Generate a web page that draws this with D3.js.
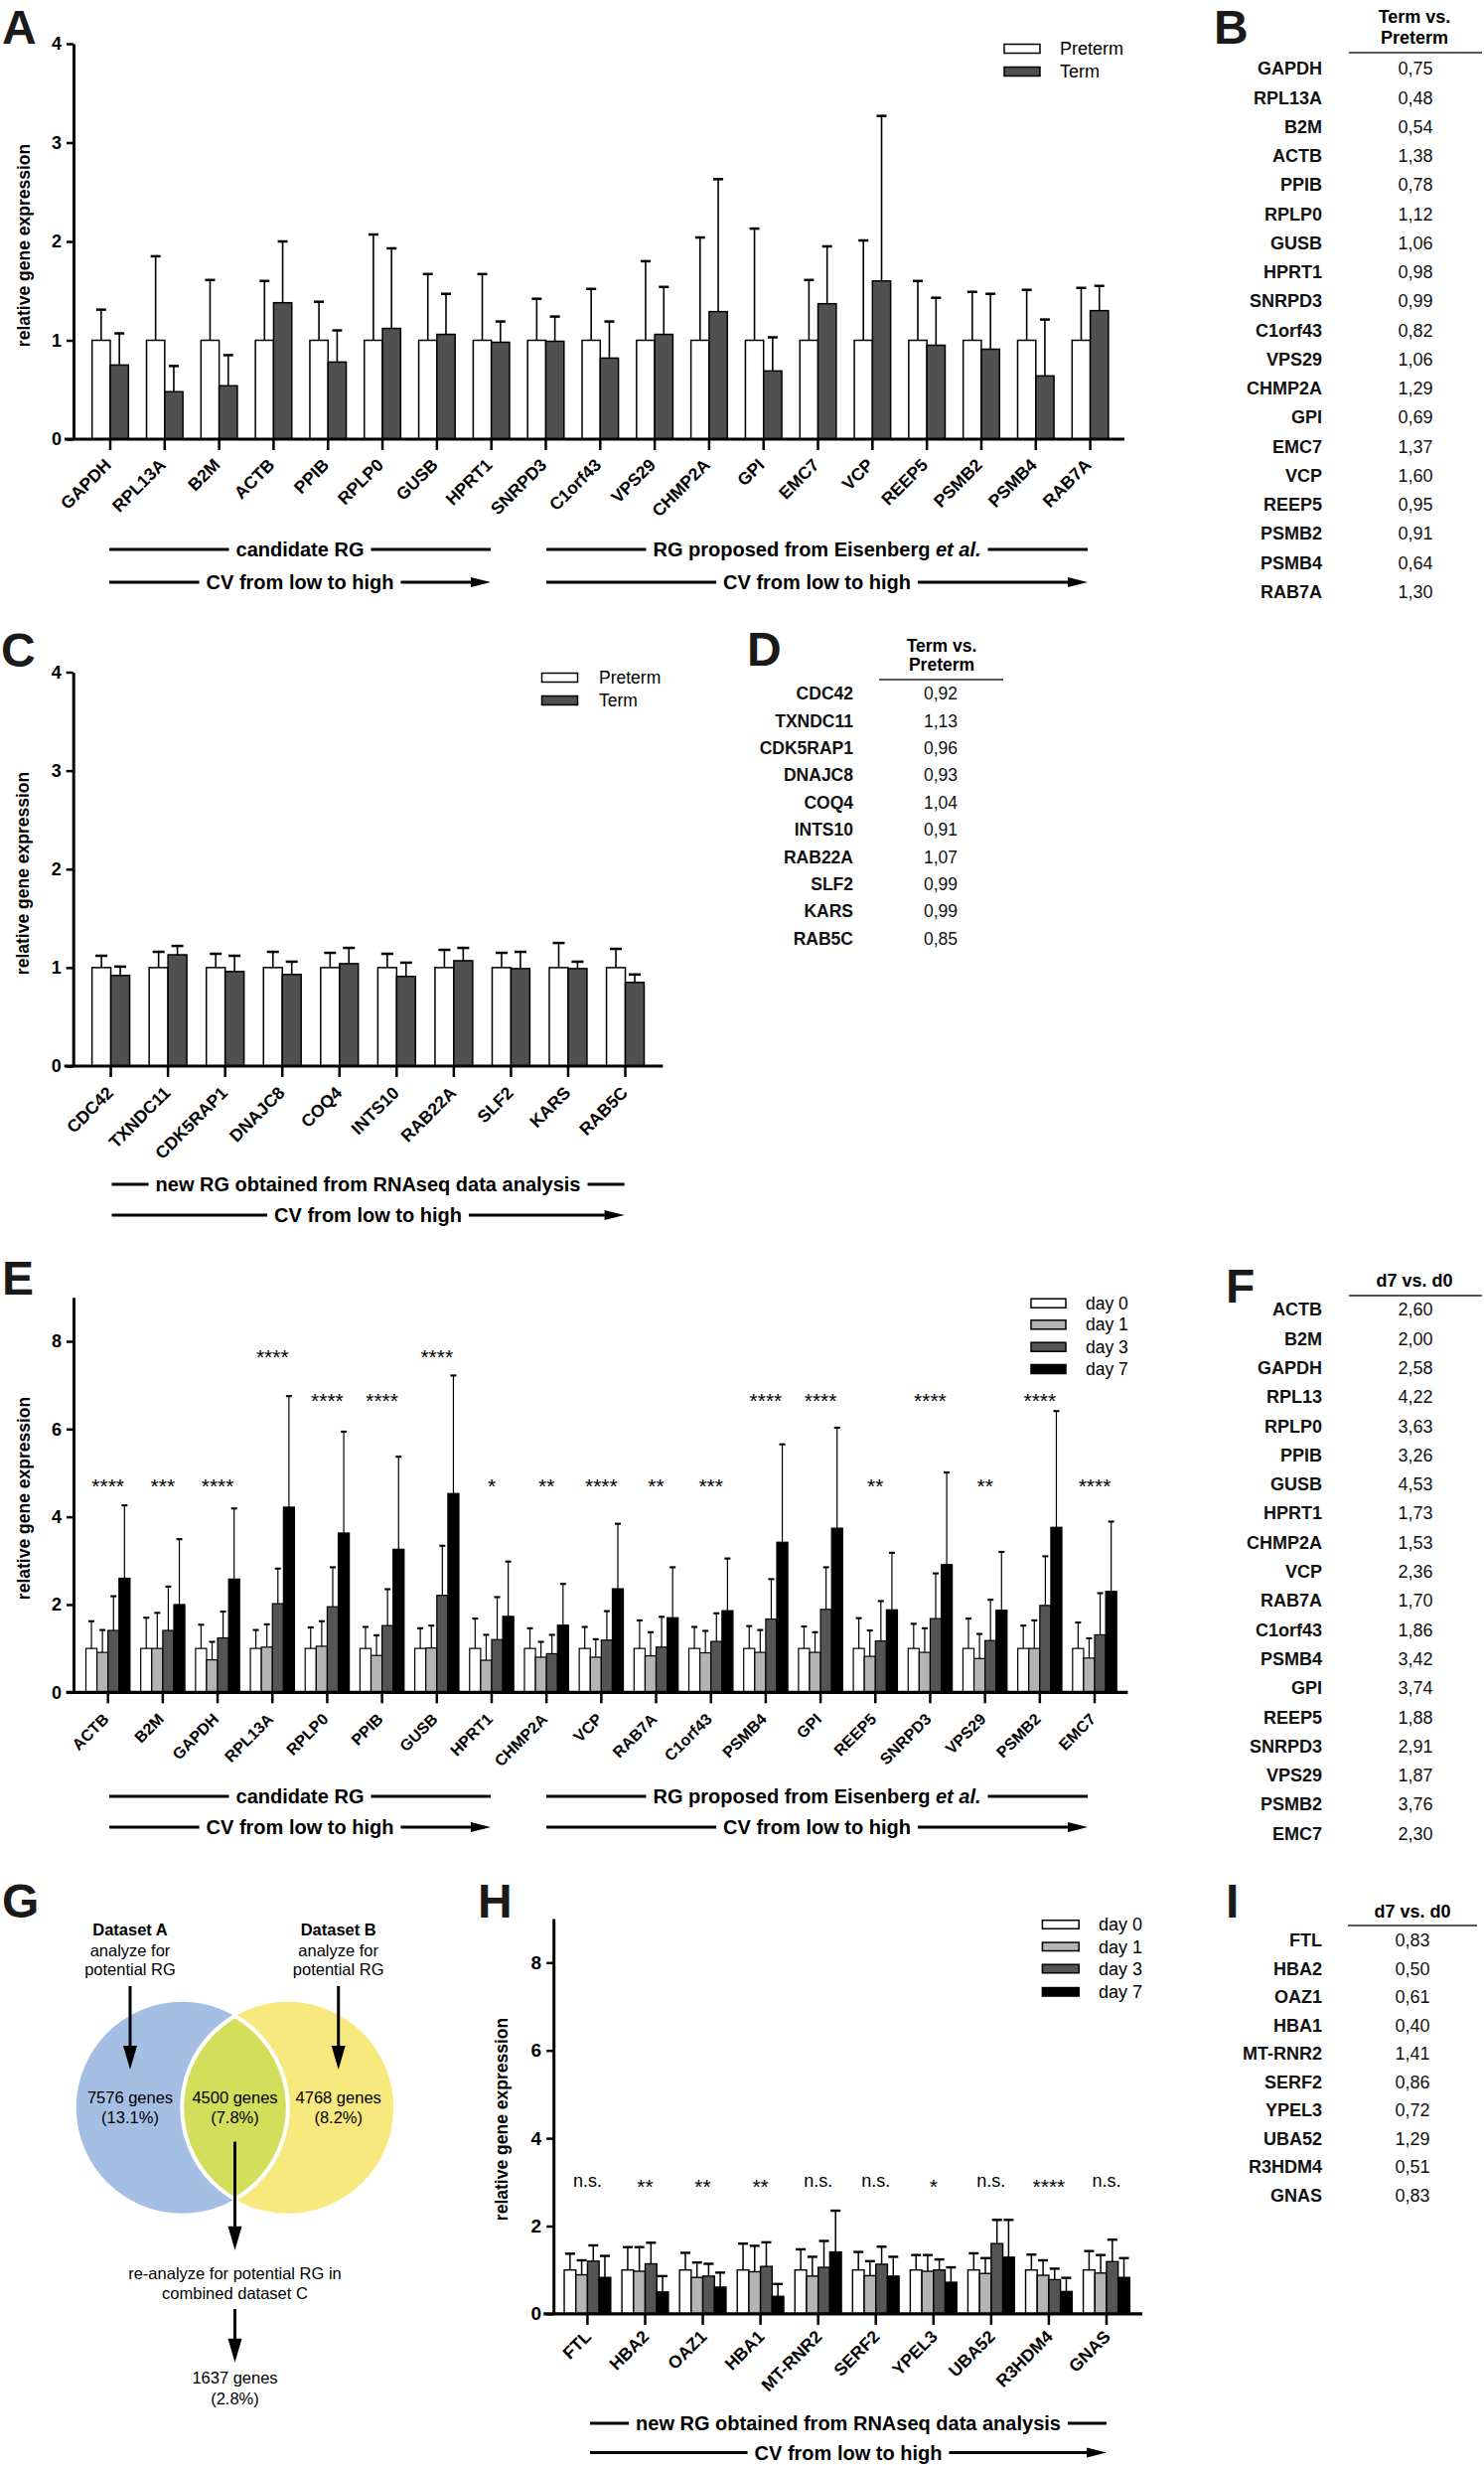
<!DOCTYPE html>
<html><head><meta charset="utf-8">
<script src="https://cdn.jsdelivr.net/npm/d3@7"></script>
<style>body{margin:0;background:#fff}</style>
</head><body>
<svg id="fig" width="1494" height="2481" xmlns="http://www.w3.org/2000/svg"></svg>
<script>
// ---------------- DATA ----------------
// Panel A / B : Preterm vs Term
const genesA = ["GAPDH","RPL13A","B2M","ACTB","PPIB","RPLP0","GUSB","HPRT1","SNRPD3","C1orf43","VPS29","CHMP2A","GPI","EMC7","VCP","REEP5","PSMB2","PSMB4","RAB7A"];
const seriesPT = ["Preterm","Term"];
const pretermA = [1,1,1,1,1,1,1,1,1,1,1,1,1,1,1,1,1,1,1];
const termA = [0.75,0.48,0.54,1.38,0.78,1.12,1.06,0.98,0.99,0.82,1.06,1.29,0.69,1.37,1.60,0.95,0.91,0.64,1.30];
const pretermErrA = [1.31,1.85,1.61,1.60,1.39,2.07,1.67,1.67,1.42,1.52,1.80,2.04,2.13,1.61,2.01,1.60,1.49,1.51,1.53];
const termErrA = [1.07,0.74,0.85,2.00,1.10,1.93,1.47,1.19,1.24,1.19,1.54,2.63,1.03,1.95,3.27,1.43,1.47,1.21,1.55];
const yTicksA = [0,1,2,3,4];

// Panel C / D
const genesC = ["CDC42","TXNDC11","CDK5RAP1","DNAJC8","COQ4","INTS10","RAB22A","SLF2","KARS","RAB5C"];
const pretermC = [1,1,1,1,1,1,1,1,1,1];
const termC = [0.92,1.13,0.96,0.93,1.04,0.91,1.07,0.99,0.99,0.85];
const pretermErrC = [1.12,1.16,1.14,1.16,1.15,1.14,1.18,1.15,1.25,1.19];
const termErrC = [1.01,1.22,1.12,1.06,1.20,1.05,1.20,1.16,1.06,0.93];
const yTicksC = [0,1,2,3,4];

// Panel E / F : days
const seriesDays = ["day 0","day 1","day 3","day 7"];
const genesE = ["ACTB","B2M","GAPDH","RPL13A","RPLP0","PPIB","GUSB","HPRT1","CHMP2A","VCP","RAB7A","C1orf43","PSMB4","GPI","REEP5","SNRPD3","VPS29","PSMB2","EMC7"];
const day0E = [1,1,1,1,1,1,1,1,1,1,1,1,1,1,1,1,1,1,1];
const day1E = [0.91,1.00,0.74,1.03,1.05,0.84,1.01,0.73,0.80,0.80,0.83,0.90,0.91,0.91,0.82,0.91,0.77,1.00,0.78];
const day3E = [1.41,1.41,1.24,2.02,1.95,1.52,2.21,1.20,0.88,1.19,1.03,1.16,1.67,1.89,1.17,1.68,1.18,1.98,1.31];
const day7E = [2.60,2.00,2.58,4.22,3.63,3.26,4.53,1.73,1.53,2.36,1.70,1.86,3.42,3.74,1.88,2.91,1.87,3.76,2.30];
const day0ErrE = [1.62,1.70,1.54,1.42,1.48,1.49,1.46,1.68,1.46,1.49,1.64,1.49,1.51,1.50,1.69,1.56,1.68,1.52,1.59];
const day1ErrE = [1.42,1.81,1.15,1.55,1.62,1.30,1.52,1.31,1.15,1.21,1.37,1.40,1.42,1.37,1.41,1.46,1.33,1.64,1.23];
const day3ErrE = [2.19,2.41,1.84,2.82,2.85,2.35,3.34,2.17,1.31,1.85,1.72,1.80,2.58,2.85,2.08,2.71,2.11,3.10,2.26];
const day7ErrE = [4.26,3.49,4.19,6.75,5.94,5.37,7.22,2.98,2.47,3.84,2.85,3.05,5.65,6.03,3.18,5.01,3.20,6.41,3.89];
const sigE = ["****","***","****","****","****","****","****","*","**","****","**","***","****","****","**","****","**","****","****"];
const tableGenesF = ["ACTB","B2M","GAPDH","RPL13","RPLP0","PPIB","GUSB","HPRT1","CHMP2A","VCP","RAB7A","C1orf43","PSMB4","GPI","REEP5","SNRPD3","VPS29","PSMB2","EMC7"];
const yTicksE = [0,2,4,6,8];

// Panel H / I
const genesH = ["FTL","HBA2","OAZ1","HBA1","MT-RNR2","SERF2","YPEL3","UBA52","R3HDM4","GNAS"];
const day0H = [1,1,1,1,1,1,1,1,1,1];
const day1H = [0.89,0.97,0.83,0.96,0.86,0.87,0.97,0.92,0.88,0.93];
const day3H = [1.20,1.14,0.86,1.08,1.06,1.13,1.00,1.60,0.78,1.19];
const day7H = [0.83,0.50,0.61,0.40,1.41,0.86,0.72,1.29,0.51,0.83];
const day0ErrH = [1.37,1.52,1.39,1.60,1.47,1.41,1.34,1.38,1.35,1.43];
const day1ErrH = [1.22,1.52,1.17,1.55,1.30,1.20,1.34,1.27,1.22,1.34];
const day3ErrH = [1.56,1.62,1.14,1.63,1.66,1.53,1.24,2.14,1.03,1.69];
const day7ErrH = [1.32,0.86,0.94,0.68,2.35,1.30,1.06,2.14,0.82,1.27];
const sigH = ["n.s.","**","**","**","n.s.","n.s.","*","n.s.","****","n.s."];
const yTicksH = [0,2,4,6,8];

// Panel G : Venn
const vennHeads = ["Dataset A","Dataset B"];
const vennCounts = ["7576 genes","4500 genes","4768 genes"];
const vennPcts = ["(13.1%)","(7.8%)","(8.2%)"];
const finalCount = ["1637 genes","(2.8%)"];

// ---------------- DRAWING ----------------
const FONT = '"Liberation Sans", Arial, Helvetica, sans-serif';
const svg = d3.select("#fig");
svg.append("rect").attr("width",1494).attr("height",2481).attr("fill","#fff");
const fmt = v => d3.format(".2f")(v).replace(".", ",");

function txt(g, x, y, s, fs, opts = {}) {
  return g.append("text").attr("x", x).attr("y", y).text(s)
    .attr("font-family", FONT).attr("font-size", fs)
    .attr("font-weight", opts.bold ? "bold" : "normal")
    .attr("font-style", opts.italic ? "italic" : "normal")
    .attr("text-anchor", opts.anchor || "start")
    .attr("dy", opts.dy == null ? "0.35em" : opts.dy)
    .attr("fill", opts.fill || "#000");
}

function panelLetter(t, x, y) {
  svg.append("text").attr("x", x).attr("y", y).text(t)
    .attr("font-family", FONT).attr("font-weight", "bold").attr("font-size", 48).attr("fill", "#1a1a1a");
}

function barChart(c) {
  const g = svg.append("g");
  const x0 = d3.scaleBand().domain(c.cats).range(c.xr).paddingInner(0).paddingOuter(0);
  const bw = x0.bandwidth();
  const x1 = d3.scaleBand().domain(c.names).range([(bw - c.gw) / 2, (bw + c.gw) / 2]);
  const y = d3.scaleLinear().domain(c.yDomain).range(c.yr);
  const flat = [];
  c.cats.forEach((cat, i) => c.names.forEach((n, j) =>
    flat.push({ cat, n, j, i, v: c.values[j][i], e: c.errs[j][i] })));

  // error bars (upper)
  const eb = g.append("g").selectAll("g").data(flat).join("g")
    .attr("transform", d => `translate(${x0(d.cat) + x1(d.n) + x1.bandwidth() / 2},0)`);
  eb.append("line").attr("x1", 0).attr("x2", 0)
    .attr("y1", d => y(d.v)).attr("y2", d => y(d.e))
    .attr("stroke", "#000").attr("stroke-width", c.ew);
  eb.append("line").attr("x1", -c.cap / 2).attr("x2", c.cap / 2)
    .attr("y1", d => y(d.e)).attr("y2", d => y(d.e))
    .attr("stroke", "#000").attr("stroke-width", c.ew + 0.9);

  // bars
  g.append("g").selectAll("rect").data(flat).join("rect")
    .attr("x", d => x0(d.cat) + x1(d.n)).attr("width", x1.bandwidth())
    .attr("y", d => y(d.v)).attr("height", d => y(0) - y(d.v))
    .attr("fill", d => c.colors[d.j]).attr("stroke", "#000").attr("stroke-width", c.bs);

  // y axis
  const ya = g.append("g").attr("transform", `translate(${c.axisX},0)`)
    .call(d3.axisLeft(y).tickValues(c.yTicks).tickFormat(d3.format("d"))
      .tickSize(7).tickSizeOuter(0).tickPadding(5));
  ya.select(".domain").attr("stroke-width", 3);
  ya.selectAll(".tick line").attr("stroke-width", 2.5);
  ya.selectAll(".tick text").attr("font-family", FONT).attr("font-weight", "bold")
    .attr("font-size", c.yfs).attr("fill", "#000");

  // x axis
  const xa = g.append("g").attr("transform", `translate(0,${y(0)})`)
    .call(d3.axisBottom(x0).tickSize(11).tickSizeOuter(0));
  xa.select(".domain").remove();
  xa.selectAll(".tick line").attr("stroke-width", 2.5);
  xa.selectAll(".tick text").attr("y", 0).attr("dy", 0).attr("x", 0)
    .attr("transform", `translate(${c.lx},${c.ly}) rotate(-45)`)
    .attr("text-anchor", "end").attr("font-family", FONT).attr("font-weight", "bold")
    .attr("font-size", c.lfs).attr("fill", "#000");
  g.append("line").attr("x1", c.xAxis[0]).attr("x2", c.xAxis[1])
    .attr("y1", y(0)).attr("y2", y(0)).attr("stroke", "#000").attr("stroke-width", 3.2);

  // y title
  g.append("text").attr("transform", `translate(${c.title.x},${c.title.y}) rotate(-90)`)
    .attr("text-anchor", "middle").attr("font-family", FONT).attr("font-weight", "bold")
    .attr("font-size", 17.5).text("relative gene expression");

  // legend
  const L = c.legend;
  c.names.forEach((n, j) => {
    g.append("rect").attr("x", L.x).attr("y", L.ys[j] - L.h / 2).attr("width", L.w).attr("height", L.h)
      .attr("fill", c.colors[j]).attr("stroke", "#000").attr("stroke-width", 1.5);
    txt(g, L.tx, L.ys[j], n, L.fs);
  });

  // significance
  if (c.sig) {
    c.cats.forEach((cat, i) => {
      const s = c.sig[i];
      const lvl = c.sigLevel(i);
      const isStar = s.indexOf("*") >= 0;
      const fs = isStar ? c.starFs : c.nsFs;
      g.append("text").attr("x", x0(cat) + bw / 2).attr("y", y(lvl) + (isStar ? 0.58 : 0.26) * fs)
        .attr("text-anchor", "middle").attr("font-family", FONT)
        .attr("font-size", fs).attr("fill", "#000").text(s);
    });
  }
  return { x0, y };
}

function bracket(x1, x2, y, parts, arrow, fs) {
  const g = svg.append("g");
  const cx = (x1 + x2) / 2;
  const t = g.append("text").attr("x", cx).attr("y", y).attr("dy", "0.35em")
    .attr("text-anchor", "middle").attr("font-family", FONT).attr("font-weight", "bold").attr("font-size", fs);
  parts.forEach(p => t.append("tspan").text(p.t).attr("font-style", p.i ? "italic" : "normal"));
  const w = t.node().getComputedTextLength();
  const gap = 7;
  g.append("line").attr("x1", x1).attr("x2", cx - w / 2 - gap).attr("y1", y).attr("y2", y)
    .attr("stroke", "#000").attr("stroke-width", 2.8);
  g.append("line").attr("x1", cx + w / 2 + gap).attr("x2", arrow ? x2 - 16 : x2).attr("y1", y).attr("y2", y)
    .attr("stroke", "#000").attr("stroke-width", 2.8);
  if (arrow) g.append("path").attr("d", `M${x2},${y}L${x2 - 20},${y - 5}L${x2 - 20},${y + 5}Z`).attr("fill", "#000");
}

function table(c) {
  const g = svg.append("g");
  c.header.forEach((h, k) => txt(g, c.hx, c.hy[k], h, c.fs, { bold: true, anchor: "middle" }));
  g.append("line").attr("x1", c.rule[0]).attr("x2", c.rule[1]).attr("y1", c.ruleY).attr("y2", c.ruleY)
    .attr("stroke", "#222").attr("stroke-width", 1.5);
  const yr = d3.scalePoint().domain(c.names).range([c.y0, c.y0 + c.dy * (c.names.length - 1)]);
  c.names.forEach((n, i) => {
    txt(g, c.nx, yr(n), n, c.fs, { bold: true, anchor: "end", fill: "#111" });
    txt(g, c.vx, yr(n), fmt(c.values[i]), c.fs, { anchor: "middle", fill: "#111" });
  });
}

// ---------- Panel A ----------
panelLetter("A", 2, 44);
barChart({
  cats: genesA, names: seriesPT, values: [pretermA, termA], errs: [pretermErrA, termErrA],
  colors: ["#ffffff", "#505050"],
  xr: [83.6, 1125], gw: 36.6, yDomain: [0, 4], yr: [442, 44], yTicks: yTicksA,
  axisX: 74, xAxis: [65, 1132], yfs: 18,
  lx: 2, ly: 27, lfs: 17.5,
  ew: 1.6, cap: 10, bs: 1.5,
  title: { x: 30, y: 247 },
  legend: { x: 1011, w: 36, h: 9, ys: [49, 72], tx: 1067, fs: 18 }
});
bracket(110, 494, 553, [{ t: "candidate RG" }], false, 20);
bracket(550, 1095, 553, [{ t: "RG proposed from Eisenberg " }, { t: "et al.", i: true }], false, 20);
bracket(110, 494, 586, [{ t: "CV from low to high" }], true, 20);
bracket(550, 1095, 586, [{ t: "CV from low to high" }], true, 20);

// ---------- Panel B ----------
panelLetter("B", 1222, 44);
table({ header: ["Term vs.", "Preterm"], hx: 1424, hy: [17, 37.5], rule: [1358, 1492], ruleY: 53,
  names: genesA, values: termA, nx: 1331, vx: 1425, y0: 69, dy: 29.25, fs: 18 });

// ---------- Panel C ----------
panelLetter("C", 1, 671);
barChart({
  cats: genesC, names: seriesPT, values: [pretermC, termC], errs: [pretermErrC, termErrC],
  colors: ["#ffffff", "#505050"],
  xr: [82.8, 658.3], gw: 37.9, yDomain: [0, 4], yr: [1073, 676.5], yTicks: yTicksC,
  axisX: 73.7, xAxis: [64.7, 667.4], yfs: 18,
  lx: 3.5, ly: 28, lfs: 17.5,
  ew: 1.6, cap: 12, bs: 1.5,
  title: { x: 28.7, y: 879 },
  legend: { x: 545.5, w: 36, h: 9, ys: [682, 705], tx: 603, fs: 17.5 }
});
bracket(112.5, 628.6, 1192, [{ t: "new RG obtained from RNAseq data analysis" }], false, 20);
bracket(112.5, 628.6, 1223, [{ t: "CV from low to high" }], true, 20);

// ---------- Panel D ----------
panelLetter("D", 752, 670);
table({ header: ["Term vs.", "Preterm"], hx: 948, hy: [650, 669], rule: [885, 1010], ruleY: 684,
  names: genesC, values: termC, nx: 859, vx: 947, y0: 698, dy: 27.4, fs: 17.5 });

// ---------- Panel E ----------
panelLetter("E", 2, 1303);
const dayColors = ["#ffffff", "#b4b4b4", "#555555", "#000000"];
const sigLevelsE = [4.8, 6.75, 7.75];
const errsE = [day0ErrE, day1ErrE, day3ErrE, day7ErrE];
barChart({
  cats: genesE, names: seriesDays, values: [day0E, day1E, day3E, day7E], errs: errsE,
  colors: dayColors,
  xr: [81.1, 1129.6], gw: 44.4, yDomain: [0, 9], yr: [1703.3, 1305.8], yTicks: yTicksE,
  axisX: 74, xAxis: [66.6, 1135.4], yfs: 18,
  lx: 2, ly: 28, lfs: 16,
  ew: 1.2, cap: 6, bs: 1.2,
  title: { x: 30, y: 1508 },
  legend: { x: 1038, w: 35, h: 9, ys: [1311.7, 1333.3, 1355.7, 1378], tx: 1093, fs: 17.5 },
  sig: sigE, starFs: 21, nsFs: 18,
  sigLevel: i => { const m = d3.max(errsE, e => e[i]); return sigLevelsE.find(l => l > m + 0.3); }
});
bracket(110, 494, 1808, [{ t: "candidate RG" }], false, 20);
bracket(550, 1095, 1808, [{ t: "RG proposed from Eisenberg " }, { t: "et al.", i: true }], false, 20);
bracket(110, 494, 1839, [{ t: "CV from low to high" }], true, 20);
bracket(550, 1095, 1839, [{ t: "CV from low to high" }], true, 20);

// ---------- Panel F ----------
panelLetter("F", 1234, 1311);
table({ header: ["d7 vs. d0"], hx: 1424, hy: [1289], rule: [1358, 1492], ruleY: 1304,
  names: tableGenesF, values: day7E, nx: 1331, vx: 1425, y0: 1318, dy: 29.3, fs: 18 });

// ---------- Panel G ----------
panelLetter("G", 2, 1930);
function vArrow(g, x, y1, y2) {
  g.append("line").attr("x1", x).attr("x2", x).attr("y1", y1).attr("y2", y2 - 20)
    .attr("stroke", "#000").attr("stroke-width", 3);
  g.append("path").attr("d", `M${x},${y2}L${x - 7},${y2 - 24}L${x + 7},${y2 - 24}Z`).attr("fill", "#000");
}
(function venn() {
  const g = svg.append("g");
  const cA = { x: 183.3, y: 2121.3 }, cB = { x: 289.7, y: 2121.3 }, r = 106.5;
  const defs = svg.append("defs");
  defs.append("clipPath").attr("id", "clipA").append("circle").attr("cx", cA.x).attr("cy", cA.y).attr("r", r);
  defs.append("clipPath").attr("id", "clipB").append("circle").attr("cx", cB.x).attr("cy", cB.y).attr("r", r);
  g.append("circle").attr("cx", cA.x).attr("cy", cA.y).attr("r", r).attr("fill", "#a5bfe4");
  g.append("circle").attr("cx", cB.x).attr("cy", cB.y).attr("r", r).attr("fill", "#f7e97e");
  g.append("circle").attr("cx", cB.x).attr("cy", cB.y).attr("r", r).attr("fill", "#d3df5a")
    .attr("stroke", "#fff").attr("stroke-width", 4).attr("clip-path", "url(#clipA)");
  g.append("circle").attr("cx", cA.x).attr("cy", cA.y).attr("r", r).attr("fill", "none")
    .attr("stroke", "#fff").attr("stroke-width", 4).attr("clip-path", "url(#clipB)");

  const fs = 16.5;
  const heads = [cA.x - 52.3, cB.x + 51];
  heads.forEach((hx, k) => {
    txt(g, hx, 1942.6, vennHeads[k], fs, { bold: true, anchor: "middle" });
    txt(g, hx, 1963, "analyze for", fs, { anchor: "middle" });
    txt(g, hx, 1982.6, "potential RG", fs, { anchor: "middle" });
    vArrow(g, hx, 1999, 2083);
  });
  const cxs = [heads[0], (cA.x + cB.x) / 2, heads[1]];
  cxs.forEach((x, k) => {
    txt(g, x, 2111, vennCounts[k], fs, { anchor: "middle" });
    txt(g, x, 2131.5, vennPcts[k], fs, { anchor: "middle" });
  });
  const mx = (cA.x + cB.x) / 2;
  vArrow(g, mx, 2155.6, 2264.8);
  txt(g, mx, 2287.8, "re-analyze for potential RG in", fs, { anchor: "middle" });
  txt(g, mx, 2308, "combined dataset C", fs, { anchor: "middle" });
  vArrow(g, mx, 2324, 2377.8);
  txt(g, mx, 2393.7, finalCount[0], fs, { anchor: "middle" });
  txt(g, mx, 2414, finalCount[1], fs, { anchor: "middle" });
})();

// ---------- Panel H ----------
panelLetter("H", 481, 1930);
barChart({
  cats: genesH, names: seriesDays, values: [day0H, day1H, day3H, day7H],
  errs: [day0ErrH, day1ErrH, day3ErrH, day7ErrH],
  colors: dayColors,
  xr: [562.4, 1143], gw: 46.8, yDomain: [0, 9], yr: [2328.9, 1931.1], yTicks: yTicksH,
  axisX: 557.2, xAxis: [547.2, 1150], yfs: 19,
  lx: 5, ly: 24, lfs: 17.5,
  ew: 1.5, cap: 10, bs: 1.4,
  title: { x: 510.5, y: 2133 },
  legend: { x: 1049.4, w: 36.8, h: 8.5, ys: [1937, 1959.3, 1981.5, 2004.8], tx: 1106, fs: 18 },
  sig: sigH, starFs: 21, nsFs: 18,
  sigLevel: i => 3.0
});
bracket(594, 1114, 2439, [{ t: "new RG obtained from RNAseq data analysis" }], false, 20);
bracket(594, 1114, 2468.5, [{ t: "CV from low to high" }], true, 20);

// ---------- Panel I ----------
panelLetter("I", 1234, 1930);
table({ header: ["d7 vs. d0"], hx: 1422, hy: [1923.5], rule: [1357, 1487], ruleY: 1938,
  names: genesH, values: day7H, nx: 1331, vx: 1422, y0: 1953, dy: 28.5, fs: 18 });
</script>
</body></html>
